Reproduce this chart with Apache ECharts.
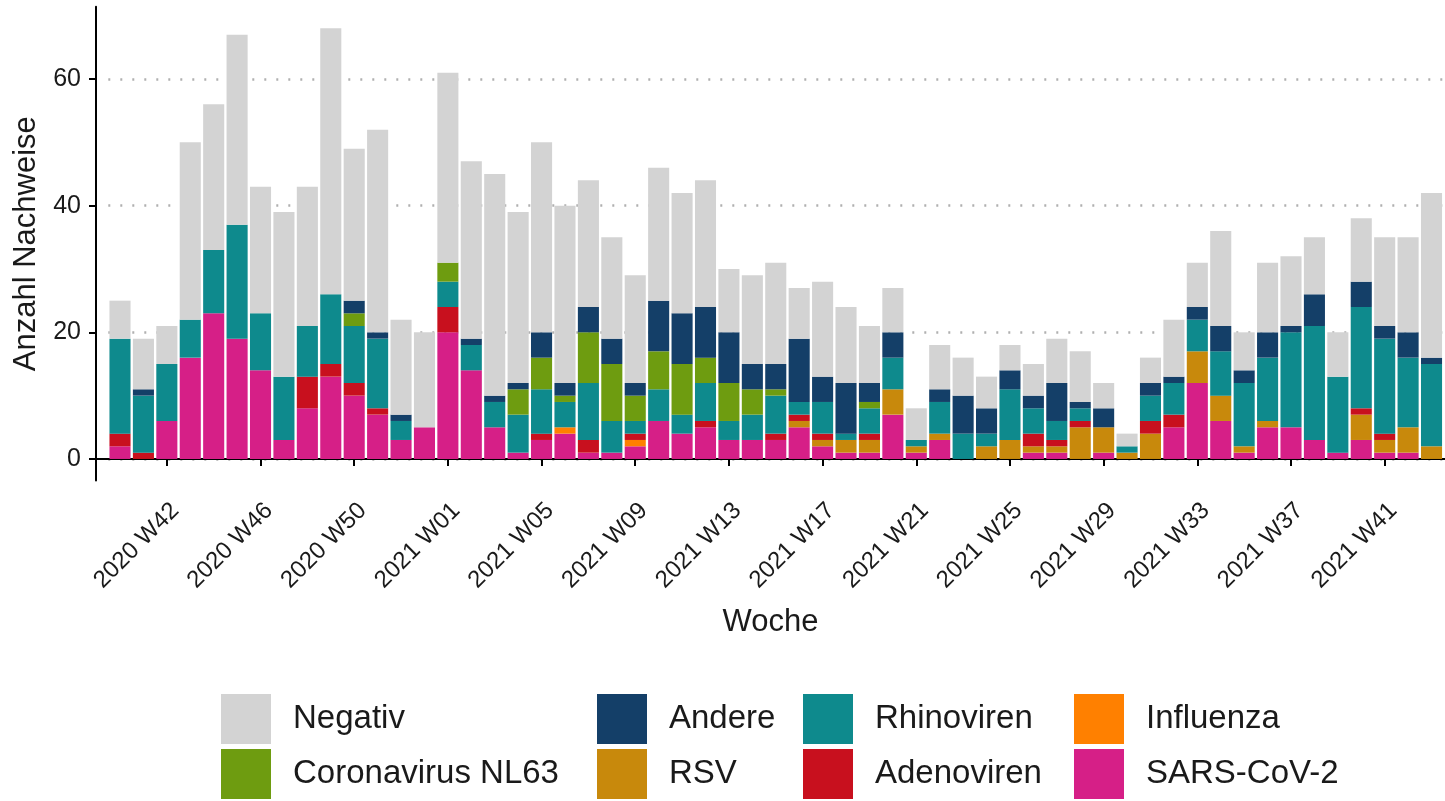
<!DOCTYPE html>
<html><head><meta charset="utf-8">
<script src="https://cdn.jsdelivr.net/npm/echarts@6/dist/echarts.min.js"></script>
<style>html,body{margin:0;padding:0;background:#fff}#c{width:1445px;height:801px}</style>
</head><body><div id="c"></div>
<script>
const weeks = ["2020 W40","2020 W41","2020 W42","2020 W43","2020 W44","2020 W45","2020 W46","2020 W47","2020 W48","2020 W49","2020 W50","2020 W51","2020 W52","2020 W53",
"2021 W01","2021 W02","2021 W03","2021 W04","2021 W05","2021 W06","2021 W07","2021 W08","2021 W09","2021 W10","2021 W11","2021 W12","2021 W13","2021 W14","2021 W15","2021 W16","2021 W17","2021 W18","2021 W19","2021 W20","2021 W21","2021 W22","2021 W23","2021 W24","2021 W25","2021 W26","2021 W27","2021 W28","2021 W29","2021 W30","2021 W31","2021 W32","2021 W33","2021 W34","2021 W35","2021 W36","2021 W37","2021 W38","2021 W39","2021 W40","2021 W41","2021 W42","2021 W43"];
const sarsCov2  = [2,0,6,16,23,19,14,3,8,13, 10,7,3,5,20,14,5,1,3,4, 1,1,2,6,4,5,3,3,3,5, 2,1,1,7,1,3,0,0,0,1, 1,0,1,0,0,5,12,6,1,5, 5,3,1,3,1,1,0];
const influenza = [0,0,0,0,0,0,0,0,0,0, 0,0,0,0,0,0,0,0,0,1, 0,0,1,0,0,0,0,0,0,0, 0,0,0,0,0,0,0,0,0,0, 0,0,0,0,0,0,0,0,0,0, 0,0,0,0,0,0,0];
const rsv       = [0,0,0,0,0,0,0,0,0,0, 0,0,0,0,0,0,0,0,0,0, 0,0,0,0,0,0,0,0,0,1, 1,2,2,4,1,1,0,2,3,1, 1,5,4,1,4,0,5,4,1,1, 0,0,0,4,2,4,2];
const adeno     = [2,1,0,0,0,0,0,0,5,2, 2,1,0,0,4,0,0,0,1,0, 2,0,1,0,0,1,0,0,1,1, 1,0,1,0,0,0,0,0,0,2, 1,1,0,0,2,2,0,0,0,0, 0,0,0,1,1,0,0];
const rhino     = [15,9,9,6,10,18,9,10,8,11, 9,11,3,0,4,4,4,6,7,4, 9,5,2,5,3,6,3,4,6,2, 5,1,4,5,1,5,4,2,8,4, 3,2,0,1,4,5,5,7,10,10, 15,18,12,16,15,11,13];
const nl63      = [0,0,0,0,0,0,0,0,0,0, 2,0,0,0,3,0,0,4,5,1, 8,9,4,6,8,4,6,4,1,0, 0,0,1,0,0,0,0,0,0,0, 0,0,0,0,0,0,0,0,0,0, 0,0,0,0,0,0,0];
const andere    = [0,1,0,0,0,0,0,0,0,0, 2,1,1,0,0,1,1,1,4,2, 4,4,2,8,8,8,8,4,4,10, 4,8,3,4,0,2,6,4,3,2, 6,1,3,0,2,1,2,4,2,4, 1,5,0,4,2,4,1];
const negativ   = [6,8,6,28,23,30,20,26,22,42, 24,32,15,15,30,28,35,27,30,28, 20,16,17,21,19,20,10,14,16,8, 15,12,9,7,5,7,6,5,4,5, 7,8,4,2,4,9,7,15,6,11, 11,9,7,10,14,15,26];
const yTicks = [0,20,40,60];

const FONT = "'Liberation Sans', Arial, sans-serif";
const stackOrder = [
  {name:"SARS-CoV-2", data:sarsCov2, color:"#D61F87"},
  {name:"Influenza", data:influenza, color:"#FF8000"},
  {name:"RSV", data:rsv, color:"#C8890C"},
  {name:"Adenoviren", data:adeno, color:"#C8101E"},
  {name:"Rhinoviren", data:rhino, color:"#0E8A8D"},
  {name:"Coronavirus NL63", data:nl63, color:"#6E9C10"},
  {name:"Andere", data:andere, color:"#143F68"},
  {name:"Negativ", data:negativ, color:"#D3D3D3"}
];
const legendCols = [
  {left:221, names:["Negativ","Coronavirus NL63"]},
  {left:597, names:["Andere","RSV"]},
  {left:803, names:["Rhinoviren","Adenoviren"]},
  {left:1074, names:["Influenza","SARS-CoV-2"]}
];

const plotTop = 6.8, plotH = 473.7;
const pitch = 23.42, firstCenter = 120;
const labelEvery = (i) => (i - 2) % 4 === 0;

const chart = echarts.init(document.getElementById('c'), null, {renderer:'canvas'});
chart.setOption({
  animation:false,
  backgroundColor:'#fff',
  textStyle:{fontFamily:FONT},
  grid:[
    {left:firstCenter - pitch/2, width:pitch*weeks.length, top:plotTop, height:plotH},
    {left:96, right:0, top:plotTop, height:plotH}
  ],
  xAxis:[
    {type:'category', gridIndex:0, data:weeks,
     axisLine:{show:false},
     axisTick:{show:true, alignWithLabel:true, interval:labelEvery, length:7, lineStyle:{color:'#000', width:2}},
     axisLabel:{interval:labelEvery, rotate:45, fontSize:24, color:'#1a1a1a', margin:18, verticalAlign:'top', fontFamily:FONT},
     splitLine:{show:false}},
    {type:'value', gridIndex:1, min:0, max:1,
     axisLine:{show:true, lineStyle:{color:'#000', width:2}},
     axisTick:{show:false}, axisLabel:{show:false}, splitLine:{show:false},
     name:'Woche', nameLocation:'middle', nameGap:126,
     nameTextStyle:{fontSize:31, color:'#1a1a1a', fontFamily:FONT}}
  ],
  yAxis:[
    {type:'value', gridIndex:0, min:-3.4, max:71.4, splitNumber:4,
     axisLine:{show:false}, axisTick:{show:false}, axisLabel:{show:false},
     splitLine:{show:true, showMinLine:false, showMaxLine:false,
       lineStyle:{color:'#b0b0b0', width:2.5, type:[2,10]}}},
    {type:'value', gridIndex:1, min:-3.4, max:71.4, splitNumber:4,
     axisLine:{show:true, lineStyle:{color:'#000', width:2}},
     axisTick:{show:true, length:7, lineStyle:{color:'#000', width:2}, customValues:yTicks},
     axisLabel:{fontSize:25, color:'#1a1a1a', margin:15, customValues:yTicks, fontFamily:FONT},
     splitLine:{show:false},
     name:'Anzahl Nachweise', nameLocation:'middle', nameGap:52, nameRotate:90,
     nameTextStyle:{fontSize:31, color:'#1a1a1a', fontFamily:FONT}}
  ],
  legend: legendCols.map(c => ({
    orient:'vertical', left:c.left, top:694, padding:0, itemWidth:50, itemHeight:50, itemGap:5,
    icon:'rect', selectedMode:false, data:c.names,
    textStyle:{fontSize:33, color:'#1a1a1a', padding:[0,0,0,17], fontFamily:FONT}
  })),
  series: stackOrder.map(s => ({
    name:s.name, type:'bar', stack:'total', xAxisIndex:0, yAxisIndex:0,
    data:s.data, barCategoryGap:'10%', itemStyle:{color:s.color}
  }))
});
</script></body></html>
